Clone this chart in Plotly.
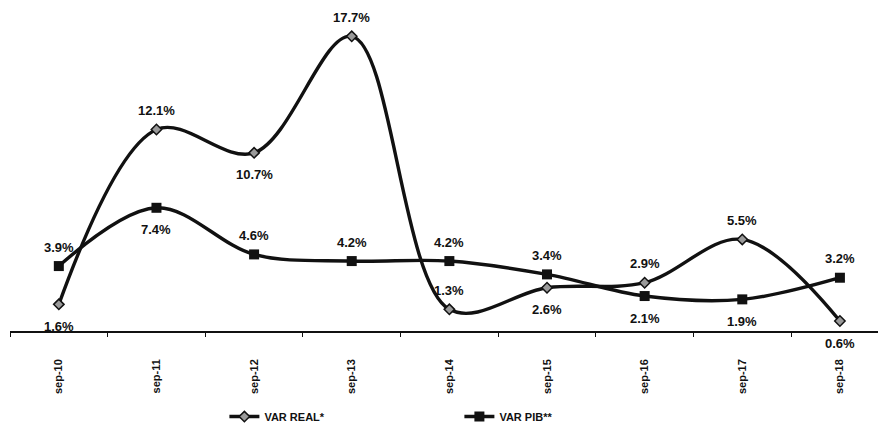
import plotly.graph_objects as go

# Year-over-year variation, September of each year
periods = ["sep-10", "sep-11", "sep-12", "sep-13", "sep-14",
           "sep-15", "sep-16", "sep-17", "sep-18"]
var_real = [1.6, 12.1, 10.7, 17.7, 1.3, 2.6, 2.9, 5.5, 0.6]
var_pib = [3.9, 7.4, 4.6, 4.2, 4.2, 3.4, 2.1, 1.9, 3.2]

# Where each value label sits relative to its point
real_side = ["below", "above", "below", "above", "above",
             "below", "above", "above", "below"]
pib_side = ["above", "below", "above", "above", "above",
            "above", "below", "below", "above"]

INK = "#111111"
FONT = "Liberation Sans"

fig = go.Figure()

fig.add_trace(go.Scatter(
    x=periods, y=var_real, name="VAR REAL*",
    mode="lines+markers",
    line=dict(color=INK, width=3.4, shape="spline", smoothing=1.0),
    marker=dict(symbol="diamond", size=8, color="#9a9a9a",
                line=dict(color=INK, width=1.5)),
))
fig.add_trace(go.Scatter(
    x=periods, y=var_pib, name="VAR PIB**",
    mode="lines+markers",
    line=dict(color=INK, width=3.4, shape="spline", smoothing=1.0),
    marker=dict(symbol="square", size=10, color=INK),
))

def add_labels(values, sides, dx=0):
    for i, (v, s) in enumerate(zip(values, sides)):
        fig.add_annotation(
            x=periods[i], y=v, text=f"{v:.1f}%",
            showarrow=False, xshift=dx,
            yshift=19 if s == "above" else -22,
            font=dict(family=FONT, size=13, color=INK, weight="bold"),
        )

add_labels(var_real, real_side)
add_labels(var_pib, pib_side)

fig.update_layout(
    width=878, height=426,
    margin=dict(l=10, r=0, t=8, b=95, autoexpand=False),
    paper_bgcolor="white", plot_bgcolor="white",
    showlegend=True,
    legend=dict(
        orientation="h", x=0.247, y=-0.22, xanchor="left", yanchor="top",
        font=dict(family=FONT, size=11, color=INK, weight="bold"),
        entrywidth=190, entrywidthmode="pixels",
        bgcolor="rgba(0,0,0,0)",
    ),
    xaxis=dict(
        type="category", range=[-0.5, 8.39], automargin=False,
        showline=True, linecolor=INK, linewidth=1.5,
        ticks="outside", ticklen=4, tickcolor=INK, tickson="boundaries",
        tickangle=-90, ticklabelstandoff=22,
        tickfont=dict(family=FONT, size=11, color=INK, weight="bold"),
        showgrid=False, zeroline=False,
    ),
    yaxis=dict(
        range=[0, 19.4], visible=False, showgrid=False, zeroline=False,
        automargin=False,
    ),
)

fig.write_html("out.html")
